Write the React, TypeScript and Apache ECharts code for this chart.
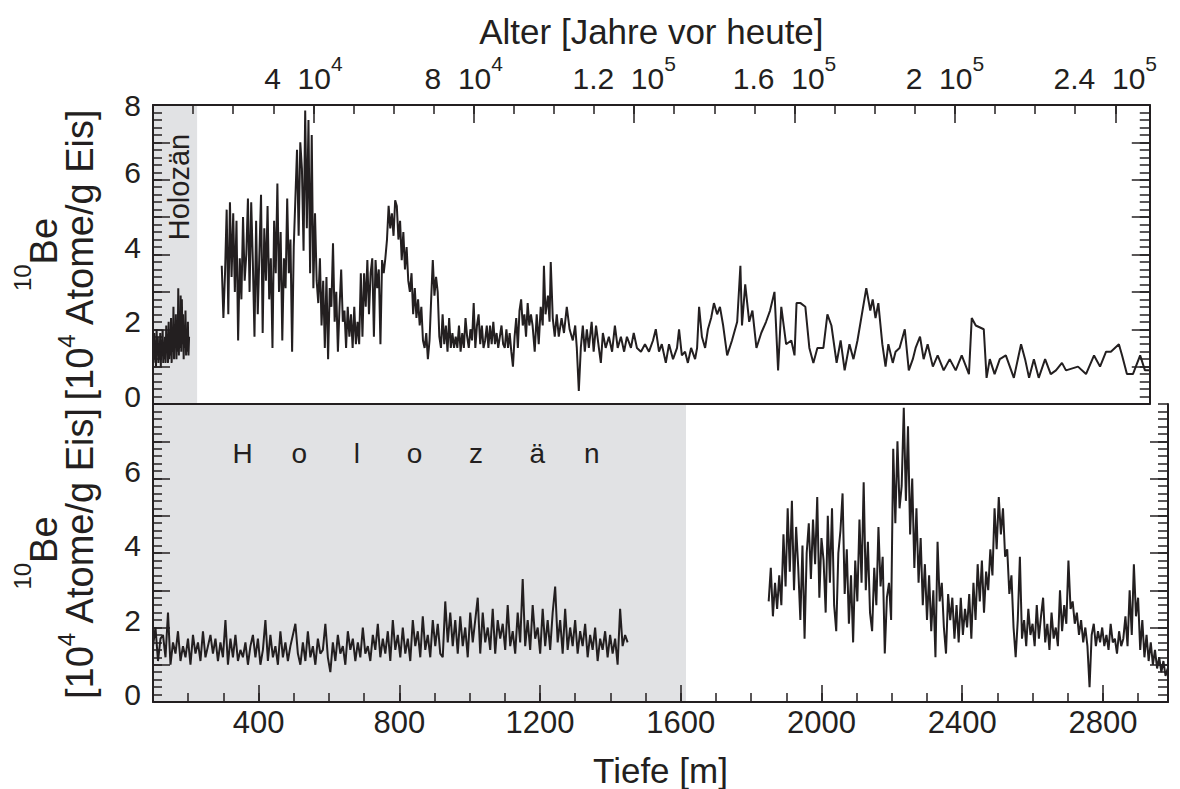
import React, { useEffect, useRef } from 'react';
import * as echarts from 'echarts';

const INK = '#231f20';
const SHADE = '#e1e2e4';
const FONT = "'Liberation Sans', Arial, Helvetica, sans-serif";

// ---------- axes ----------
const ageMin = 0;
const ageMax = 248600;
const ageMinorStep = 10000;
const ageTickValues = [40000, 80000, 120000, 160000, 200000, 240000];
const ageTickMantissa = ['4', '8', '1.2', '1.6', '2', '2.4'];
const ageTickExponent = ['4', '4', '5', '5', '5', '5'];
const ageTitle = 'Alter [Jahre vor heute]';

const depthMin = 100;
const depthMax = 2985;
const depthMinorStep = 100;
const depthTickValues = [400, 800, 1200, 1600, 2000, 2400, 2800];
const depthTitle = 'Tiefe [m]';

const yMin = -0.2;
const yMax = 7.8;
const yMinorStep = 0.2;
const yLongTicks = [-0.2, 0.8, 1.8, 2.8, 3.8, 4.8, 5.8, 6.8];
const topYTickValues = [0, 2, 4, 6, 7.8];
const topYTickLabels = ['0', '2', '4', '6', '8'];
const bottomYTickValues = [0, 2, 4, 6];
const bottomYTickLabels = ['0', '2', '4', '6'];

const holoceneAgeEnd = 11000;
const holoceneDepthEnd = 1615;
const holoceneLabelTop = 'Holozän';
const holoceneLabelBottom = 'H     o      l      o      z      ä     n';

// ---------- top panel (vs. age) ----------
const topHoloStartAge = 0;
const topHoloStepAge = 150;
const topHoloValues = [
  1.3, 0.9, 1.7, 1.0, 1.5, 0.8, 1.8, 1.1, 1.6, 0.9,
  1.4, 1.0, 1.7, 0.8, 1.5, 1.1, 1.8, 0.9, 1.4, 1.0,
  1.6, 0.9, 1.9, 1.2, 1.6, 0.9, 2.0, 1.0, 1.5, 1.1,
  2.1, 0.9, 1.7, 1.2, 2.4, 1.0, 1.8, 1.3, 2.2, 1.0,
  1.9, 1.2, 2.9, 1.1, 2.0, 1.3, 2.7, 1.2, 2.6, 1.4,
  2.2, 1.0, 1.9, 1.3, 2.3, 1.1, 1.8, 1.2, 2.0, 1.1,
  1.6,
];

const topGlacialStartAge = 17150;
const topGlacialStepAge = 408;
const topGlacialValues = [
  3.5, 2.1, 3.3, 5.0, 2.2, 5.2, 3.2, 4.9, 2.8, 4.7,
  1.5, 3.7, 2.6, 4.8, 3.1, 3.8, 5.3, 2.8, 5.2, 3.6,
  1.6, 4.7, 2.2, 3.8, 5.4, 1.7, 4.5, 3.1, 5.1, 2.6,
  3.7, 1.3, 4.7, 3.3, 5.7, 2.8, 4.4, 1.5, 3.7, 2.9,
  5.3, 3.3, 4.2, 1.2, 4.0, 5.3, 6.6, 4.3, 6.8, 6.1,
  3.9, 7.65, 4.5, 7.4, 3.3, 7.0, 2.9, 4.9, 3.1, 2.5,
  3.7, 1.9, 3.1, 1.3, 3.2, 1.0, 2.9, 2.4, 4.1, 2.0,
  2.8, 1.2, 2.4, 3.4, 2.0, 2.3, 1.3, 2.4, 1.6, 2.2,
  1.3, 2.4, 1.4, 2.0, 1.4, 3.3, 1.6, 3.3, 2.4, 3.65,
  2.2, 3.3, 3.7, 1.6, 3.65, 2.9, 3.4, 1.4, 3.65, 3.3,
  3.7, 4.2, 5.1, 4.5, 4.9, 4.3, 5.25, 5.1, 4.2, 4.7,
  3.65, 4.4, 3.4, 4.0, 3.1, 2.8, 3.3, 2.2, 2.9, 2.1,
  2.6, 1.9, 2.4, 1.5, 1.3, 1.7, 1.0, 1.5, 2.6, 3.65,
  2.7, 3.2, 2.8, 1.6, 1.3, 2.2, 1.4, 1.9, 1.2, 2.1,
  1.3, 1.7, 1.3, 1.6, 1.3, 1.9, 1.2, 1.7, 1.3, 2.1,
  1.6, 1.3, 1.8, 1.5, 2.5, 1.3, 1.9, 2.2, 1.4, 1.9,
  1.3, 1.5, 1.9, 1.3, 1.9, 1.4, 2.0, 1.4, 1.7, 1.3,
  1.6, 1.9, 1.4, 1.3, 1.8, 1.3, 1.7, 1.2, 0.8, 1.6,
  2.1, 1.3, 2.3, 2.6, 1.9, 2.2, 1.6, 2.5, 1.9, 2.2,
  1.9,
];

const topLateAges = [
  94700, 95200, 95700, 96200, 96700, 97200, 97500, 97900, 98500, 98900,
  99200, 99700, 100200, 100700, 101200, 101900, 102500, 103200, 103900, 104700,
  105300, 105700, 106200, 106700, 107200, 107700, 108200, 108700, 109400, 109900,
  110500, 111200, 111700, 112200, 112900, 113700, 114500, 115200, 115900, 116700,
  117500, 118200, 119200, 119900, 120700, 121700, 122700, 123700, 124700, 125400,
  126200, 126900, 127900, 128700, 129700, 130700, 131200, 131900, 132700, 133400,
  134200, 135200, 135700, 136200, 136900, 137700, 138400, 139200, 139900, 140700,
  141400, 142200, 143200, 144400, 145700, 146500, 146900, 147700, 148700, 149500,
  150500, 151700, 152900, 153900, 155000, 155900, 156700, 157900, 159200, 160000,
  160500, 161500, 162700, 163700, 164700, 165700, 167200, 168200, 169200, 170500,
  171500, 172500, 173700, 174700, 175700, 177900, 178900, 179500, 180200, 180900,
  181900, 182700, 183400, 184500, 185200, 186200, 187500, 188500, 189500, 190200,
  191300, 192200, 193200, 194500, 195700, 197200, 198700, 200200, 201700, 203500,
  204200, 205200, 207200, 207900, 208700, 209900, 211200, 212700, 214700, 216500,
  217500, 218500, 219700, 220900, 222500, 223900, 225200, 226700, 227700, 230700,
  232700, 234700, 236200, 237700, 238900, 240900, 241700, 242900, 244400, 246200,
  247400, 248600,
];
const topLateValues = [
  1.9, 1.2, 2.2, 1.4, 2.4, 1.9, 3.5, 2.2, 2.7, 2.0,
  3.6, 2.1, 1.6, 2.2, 1.6, 2.1, 1.7, 2.4, 1.8, 1.5,
  1.9, 1.3, 0.15, 1.3, 1.9, 1.2, 1.8, 1.3, 2.0, 1.2,
  1.9, 1.3, 0.9, 1.7, 1.3, 1.6, 1.2, 1.9, 1.3, 1.6,
  1.2, 1.6, 1.3, 1.7, 1.3, 1.2, 1.4, 1.2, 1.5, 1.8,
  1.2, 1.4, 0.9, 1.4, 1.0, 1.3, 1.8, 1.1, 1.2, 0.9,
  1.3, 1.0, 1.3, 2.4, 1.6, 1.3, 1.8, 2.1, 2.5, 2.2,
  2.4, 1.9, 1.1, 1.5, 2.0, 3.5, 1.9, 3.0, 2.0, 2.3,
  1.3, 1.7, 2.0, 2.3, 2.8, 0.7, 2.4, 1.4, 1.5, 1.1,
  2.5, 2.5, 2.4, 1.3, 0.9, 1.3, 1.3, 2.2, 1.9, 0.9,
  1.5, 0.7, 1.4, 1.0, 1.5, 2.9, 2.3, 2.6, 2.1, 2.5,
  1.4, 0.8, 1.4, 0.9, 1.2, 1.3, 1.8, 0.7, 1.0, 1.3,
  1.6, 1.0, 1.4, 0.8, 1.1, 0.7, 1.0, 0.7, 1.1, 0.6,
  2.1, 1.9, 1.8, 0.5, 1.0, 0.6, 1.0, 1.1, 0.5, 1.4,
  1.0, 0.5, 1.0, 0.5, 1.0, 0.6, 0.7, 0.9, 0.7, 0.8,
  0.6, 1.1, 0.8, 1.2, 1.2, 1.4, 1.1, 0.6, 0.6, 1.1,
  0.7, 0.7,
];

// ---------- bottom panel (vs. depth) ----------
const bottomHoloStartDepth = 100;
const bottomHoloStepDepth = 7.1;
const bottomHoloValues = [
  1.3, 1.8, 0.9, 1.5, 1.6, 1.0, 2.2, 0.8, 1.4, 1.1,
  1.7, 0.9, 1.3, 1.0, 1.5, 0.8, 1.6, 1.1, 1.4, 0.9,
  1.7, 1.0, 1.3, 1.6, 1.1, 1.5, 0.9, 1.4, 1.0, 2.0,
  0.8, 1.5, 1.0, 1.6, 0.9, 1.2, 1.0, 1.4, 0.8, 1.3,
  1.6, 1.0, 1.5, 0.8, 1.2, 2.0, 0.9, 1.6, 1.0, 1.3,
  0.8, 1.7, 1.0, 1.4, 0.9, 1.3, 1.6, 1.9, 1.1, 0.8,
  1.4, 0.9, 1.7, 1.0, 1.3, 0.8, 1.5, 1.1, 1.2, 1.9,
  1.0, 0.6, 1.4, 0.9, 1.6, 1.1, 1.3, 0.8, 1.7, 1.2,
  1.5, 0.9, 1.4, 1.0, 1.8, 1.1, 1.3, 0.9, 1.6, 1.2,
  1.9, 1.0, 1.5, 1.1, 1.7, 0.9, 2.0, 1.2, 1.6, 1.0,
  1.8, 1.1, 1.5, 0.9, 2.0, 1.3, 1.7, 1.0, 2.1, 1.2,
  1.6, 1.0, 2.0, 1.3, 1.9, 1.1, 1.0, 2.5, 1.4, 2.2,
  1.3, 2.0, 1.1, 2.1, 1.3, 1.8, 1.0, 2.2, 1.4, 2.0,
  2.6, 1.1, 2.2, 1.4, 1.8, 1.2, 2.3, 1.1, 2.0, 1.5,
  1.9, 1.2, 2.4, 1.3, 1.7, 1.1, 2.2, 1.4, 3.1, 1.3,
  2.0, 1.2, 2.4, 1.5, 1.8, 1.1, 2.3, 1.3, 2.0, 1.2,
  2.2, 2.9, 1.4, 2.0, 1.1, 2.3, 1.2, 1.8, 1.3, 2.0,
  1.1, 1.7, 1.3, 1.9, 1.0, 1.6, 1.2, 1.8, 0.9, 1.5,
  1.2, 1.7, 1.0, 1.6, 1.1, 1.5, 0.8, 2.3, 1.3, 1.6,
  1.4,
];

const bottomGlacialStartDepth = 1850;
const bottomGlacialStepDepth = 6;
const bottomGlacialValues = [
  2.5, 3.4, 2.1, 3.0, 2.3, 3.2, 2.4, 4.3, 2.9, 5.0,
  3.3, 5.2, 2.8, 4.5, 3.4, 2.0, 4.0, 1.5, 3.8, 4.6,
  3.1, 4.7, 3.5, 5.3, 2.6, 4.2, 3.6, 2.2, 4.8, 3.0,
  5.0, 2.4, 1.7, 3.8, 4.4, 5.4, 2.7, 3.9, 1.9, 3.2,
  1.4, 3.6, 2.5, 4.7, 3.0, 5.7, 2.8, 4.1, 2.2, 1.7,
  3.4, 2.4, 4.5, 2.9, 3.7, 1.1, 2.6, 3.0, 2.0, 6.6,
  4.6, 6.8, 5.0, 5.6, 7.7, 5.2, 7.2, 4.3, 5.8, 3.4,
  5.0, 3.0, 4.2, 2.4, 3.5, 2.0, 3.2, 1.7, 2.8, 1.0,
  4.1, 2.5, 3.0, 1.8, 1.1, 2.7, 2.0, 2.6, 1.5, 2.4,
  1.4, 2.6, 1.6, 2.3, 1.8, 2.7, 1.5, 3.0, 2.0, 3.5,
  2.5, 3.6, 2.2, 3.3, 2.8, 3.9, 3.2, 5.0, 3.9, 5.3,
  4.3, 5.0, 3.7, 3.9, 2.7, 3.2, 1.8, 1.0, 2.0, 3.7,
  1.5, 2.0, 1.3, 2.3, 1.6, 1.9, 1.3, 2.4, 1.5, 2.1,
  2.6, 1.4, 1.9, 1.2, 2.2, 1.5, 1.8, 1.3, 2.8, 1.7,
  2.4, 1.9, 3.6, 2.3, 2.5, 1.9, 2.2, 1.6, 2.0, 1.4,
  1.8, 1.3, 0.2, 1.6, 1.9, 1.3, 1.7, 1.4, 1.8, 1.3,
  1.6, 1.2, 1.9, 1.4, 1.5, 1.1, 1.7, 1.3, 1.5, 2.1,
  1.3, 2.8, 1.6, 3.5, 2.1, 2.6, 1.2, 2.0, 1.0, 1.6,
  0.9, 1.4, 0.8, 1.2, 0.7, 1.0, 0.6, 0.9, 0.5, 0.7,
];

// ---------- build ----------
const topHoloData = topHoloValues.map((v, i) => [topHoloStartAge + i * topHoloStepAge, v]);
const topMainData = topGlacialValues
  .map((v, i) => [topGlacialStartAge + i * topGlacialStepAge, v])
  .concat(topLateAges.map((a, i) => [a, topLateValues[i]]));
const bottomHoloData = bottomHoloValues.map((v, i) => [bottomHoloStartDepth + i * bottomHoloStepDepth, v]);
const bottomGlacialData = bottomGlacialValues.map((v, i) => [bottomGlacialStartDepth + i * bottomGlacialStepDepth, v]);

const axisLineStyle = { color: INK, width: 2 };
const tickStyle = { color: INK, width: 1.5 };

const nearestLabel = (values: number[], labels: string[]) => (v: number) => {
  let best = 0;
  for (let i = 1; i < values.length; i++) if (Math.abs(values[i] - v) < Math.abs(values[best] - v)) best = i;
  return labels[best];
};

const yNameRich = {
  b: { fontSize: 38, lineHeight: 36, verticalAlign: 'middle', color: INK, fontFamily: FONT },
  s1: { fontSize: 24, lineHeight: 36, padding: [0, 0, 44, 0], verticalAlign: 'middle', color: INK, fontFamily: FONT },
  s2: { fontSize: 24, lineHeight: 36, padding: [0, 0, 28, 0], verticalAlign: 'middle', color: INK, fontFamily: FONT },
};
const yName = '{s1|10}{b|Be}\n{b|[10}{s2|4}{b| Atome/g Eis]}';

function yAxes(gridIndex: number, tickValues: number[], tickLabels: string[]) {
  return [
    {
      type: 'value', gridIndex, position: 'left', min: yMin, max: yMax, interval: yMinorStep, z: 10,
      axisLine: { show: true, onZero: false, lineStyle: axisLineStyle },
      axisTick: { show: true, inside: true, length: 9, lineStyle: tickStyle },
      axisLabel: {
        show: true, customValues: tickValues, formatter: nearestLabel(tickValues, tickLabels),
        fontSize: 30, color: INK, fontFamily: FONT, margin: 12,
      },
      splitLine: { show: false },
      name: yName, nameLocation: 'middle', nameRotate: 90, nameGap: 55,
      nameTextStyle: { rich: yNameRich },
    },
    {
      type: 'value', gridIndex, position: 'left', min: yMin, max: yMax, z: 10,
      axisLine: { show: false, onZero: false },
      axisTick: { show: true, inside: true, length: 17, lineStyle: tickStyle, customValues: yLongTicks },
      axisLabel: { show: false }, splitLine: { show: false },
    },
    {
      type: 'value', gridIndex, position: 'right', min: yMin, max: yMax, interval: yMinorStep, z: 10,
      axisLine: { show: true, onZero: false, lineStyle: axisLineStyle },
      axisTick: { show: true, inside: true, length: 10, lineStyle: tickStyle },
      axisLabel: { show: false }, splitLine: { show: false },
    },
    {
      type: 'value', gridIndex, position: 'right', min: yMin, max: yMax, z: 10,
      axisLine: { show: false, onZero: false },
      axisTick: { show: true, inside: true, length: 18, lineStyle: tickStyle, customValues: yLongTicks },
      axisLabel: { show: false }, splitLine: { show: false },
    },
  ];
}

const lineSeriesBase = {
  type: 'line', symbol: 'none', showSymbol: false, z: 3,
  lineStyle: { color: INK, width: 2 }, itemStyle: { color: INK },
  emphasis: { disabled: true },
};

const option = {
  animation: false,
  backgroundColor: '#ffffff',
  textStyle: { fontFamily: FONT, color: INK },
  grid: [
    { left: 153, right: 12, top: 105, height: 299 },
    { left: 153, right: 12, top: 404, height: 299 },
  ],
  xAxis: [
    {
      type: 'value', gridIndex: 0, position: 'top', min: ageMin, max: ageMax, interval: ageMinorStep, z: 10,
      axisLine: { show: true, onZero: false, lineStyle: axisLineStyle },
      axisTick: { show: true, inside: true, length: 9, lineStyle: tickStyle },
      axisLabel: { show: false }, splitLine: { show: false },
      name: ageTitle, nameLocation: 'middle', nameGap: 56,
      nameTextStyle: { fontSize: 35, color: INK, fontFamily: FONT },
    },
    {
      type: 'value', gridIndex: 0, position: 'top', min: ageMin, max: ageMax, z: 10,
      axisLine: { show: false, onZero: false },
      axisTick: { show: true, inside: true, length: 18, lineStyle: tickStyle, customValues: ageTickValues },
      axisLabel: {
        show: true, customValues: ageTickValues, margin: 10,
        formatter: (v: number) => {
          const i = ageTickValues.findIndex((t) => Math.abs(t - v) < 1);
          return `{n|${ageTickMantissa[i]}  10}{s|${ageTickExponent[i]}}`;
        },
        rich: {
          n: { fontSize: 30, lineHeight: 34, verticalAlign: 'middle', color: INK, fontFamily: FONT },
          s: { fontSize: 21, lineHeight: 34, padding: [0, 20, 30, 0], verticalAlign: 'middle', color: INK, fontFamily: FONT },
        },
      },
      splitLine: { show: false },
    },
    {
      type: 'value', gridIndex: 0, position: 'bottom', min: ageMin, max: ageMax, z: 10,
      axisLine: { show: true, onZero: false, lineStyle: axisLineStyle },
      axisTick: { show: false }, axisLabel: { show: false }, splitLine: { show: false },
    },
    {
      type: 'value', gridIndex: 1, position: 'bottom', min: depthMin, max: depthMax, interval: depthMinorStep, z: 10,
      axisLine: { show: true, onZero: false, lineStyle: axisLineStyle },
      axisTick: { show: true, inside: true, length: 9, lineStyle: tickStyle },
      axisLabel: { show: false }, splitLine: { show: false },
      name: depthTitle, nameLocation: 'middle', nameGap: 51,
      nameTextStyle: { fontSize: 35, color: INK, fontFamily: FONT },
    },
    {
      type: 'value', gridIndex: 1, position: 'bottom', min: depthMin, max: depthMax, z: 10,
      axisLine: { show: false, onZero: false },
      axisTick: { show: true, inside: true, length: 17, lineStyle: tickStyle, customValues: depthTickValues },
      axisLabel: {
        show: true, customValues: depthTickValues, formatter: (v: number) => String(Math.round(v)),
        fontSize: 31, color: INK, fontFamily: FONT, margin: 5,
      },
      splitLine: { show: false },
    },
  ],
  yAxis: [
    ...yAxes(0, topYTickValues, topYTickLabels),
    ...yAxes(1, bottomYTickValues, bottomYTickLabels),
  ],
  series: [
    {
      ...lineSeriesBase, xAxisIndex: 0, yAxisIndex: 0, data: topHoloData,
      markArea: {
        silent: true,
        itemStyle: { color: SHADE },
        label: {
          show: true, position: [26, 82], rotate: 90, align: 'center', verticalAlign: 'middle',
          fontSize: 29, color: INK, fontFamily: FONT,
        },
        data: [[{ name: holoceneLabelTop, xAxis: ageMin }, { xAxis: holoceneAgeEnd }]],
      },
    },
    { ...lineSeriesBase, xAxisIndex: 0, yAxisIndex: 0, data: topMainData },
    {
      ...lineSeriesBase, xAxisIndex: 3, yAxisIndex: 4, data: bottomHoloData,
      markArea: {
        silent: true,
        itemStyle: { color: SHADE },
        label: {
          show: true, position: [263, 49], align: 'center', verticalAlign: 'middle',
          fontSize: 28, color: INK, fontFamily: FONT,
        },
        data: [[{ name: holoceneLabelBottom, xAxis: depthMin }, { xAxis: holoceneDepthEnd }]],
      },
    },
    { ...lineSeriesBase, xAxisIndex: 3, yAxisIndex: 4, data: bottomGlacialData },
  ],
};

export default function App() {
  const ref = useRef<HTMLDivElement>(null);
  useEffect(() => {
    if (!ref.current) return;
    const chart = echarts.init(ref.current, undefined, { renderer: 'svg' });
    chart.setOption(option as any);
    return () => chart.dispose();
  }, []);
  return (
    <div
      ref={ref}
      style={{ position: 'fixed', left: 0, top: 0, width: 1180, height: 789, background: '#ffffff' }}
    />
  );
}
